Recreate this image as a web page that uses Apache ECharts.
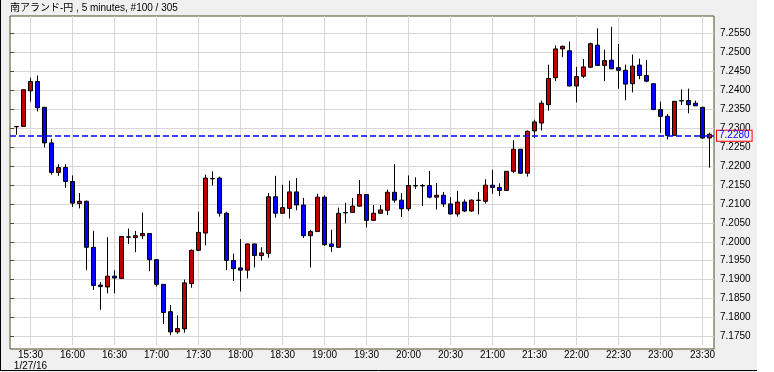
<!DOCTYPE html>
<html>
<head>
<meta charset="utf-8">
<script src="https://cdn.jsdelivr.net/npm/echarts@6/dist/echarts.min.js"></script>
<style>
html,body{margin:0;padding:0;background:#f0f0f0;}
#chart{width:774px;height:372px;}
</style>
</head>
<body>
<div id="chart"></div>
<script>
var titleText = '南アランド-円 , 5 minutes, #100 / 305';
var dateLabel = '1/27/16';
var times = ['15:20','15:25','15:30','15:35','15:40','15:45','15:50','15:55',
'16:00','16:05','16:10','16:15','16:20','16:25','16:30','16:35','16:40','16:45','16:50','16:55',
'17:00','17:05','17:10','17:15','17:20','17:25','17:30','17:35','17:40','17:45','17:50','17:55',
'18:00','18:05','18:10','18:15','18:20','18:25','18:30','18:35','18:40','18:45','18:50','18:55',
'19:00','19:05','19:10','19:15','19:20','19:25','19:30','19:35','19:40','19:45','19:50','19:55',
'20:00','20:05','20:10','20:15','20:20','20:25','20:30','20:35','20:40','20:45','20:50','20:55',
'21:00','21:05','21:10','21:15','21:20','21:25','21:30','21:35','21:40','21:45','21:50','21:55',
'22:00','22:05','22:10','22:15','22:20','22:25','22:30','22:35','22:40','22:45','22:50','22:55',
'23:00','23:05','23:10','23:15','23:20','23:25','23:30','23:35'];
var openV = [7.2300,7.2301,7.2396,7.2421,7.2352,7.2257,7.2178,7.2191,7.2154,7.2095,
7.2101,7.1978,7.1877,7.1872,7.1901,7.1895,7.2006,7.2004,7.2009,7.2015,
7.1945,7.1879,7.1806,7.1752,7.1760,7.1881,7.1970,7.2016,7.2162,7.2163,
7.2069,7.1943,7.1923,7.1917,7.1987,7.1956,7.1962,7.2113,7.2069,7.2082,
7.2126,7.2091,7.2009,7.2020,7.2112,7.1987,7.1978,7.2071,7.2071,7.2088,
7.2119,7.2050,7.2069,7.2077,7.2125,7.2104,7.2081,7.2143,7.2143,7.2143,
7.2112,7.2117,7.2094,7.2067,7.2099,7.2075,7.2104,7.2101,7.2144,7.2138,
7.2130,7.2181,7.2240,7.2176,7.2289,7.2310,7.2359,7.2431,7.2508,7.2503,
7.2409,7.2435,7.2459,7.2518,7.2464,7.2478,7.2458,7.2451,7.2415,7.2465,
7.2437,7.2415,7.2346,7.2328,7.2277,7.2370,7.2370,7.2363,7.2352,7.2270];
var closeV = [7.2301,7.2399,7.2421,7.2351,7.2257,7.2178,7.2191,7.2154,7.2096,7.2101,
7.1978,7.1876,7.1873,7.1901,7.1896,7.2007,7.2005,7.2009,7.2015,7.1945,
7.1879,7.1804,7.1752,7.1761,7.1883,7.1970,7.2018,7.2163,7.2161,7.2069,
7.1943,7.1921,7.1917,7.1987,7.1956,7.1963,7.2113,7.2069,7.2084,7.2126,
7.2091,7.2009,7.2020,7.2112,7.1985,7.1980,7.2069,7.2070,7.2088,7.2119,
7.2050,7.2069,7.2078,7.2125,7.2104,7.2081,7.2143,7.2142,7.2142,7.2112,
7.2117,7.2094,7.2067,7.2099,7.2075,7.2104,7.2103,7.2144,7.2138,7.2130,
7.2181,7.2240,7.2176,7.2288,7.2313,7.2363,7.2429,7.2508,7.2515,7.2409,
7.2434,7.2460,7.2522,7.2464,7.2477,7.2455,7.2451,7.2414,7.2462,7.2437,
7.2422,7.2346,7.2328,7.2277,7.2368,7.2369,7.2359,7.2356,7.2270,7.2280];
var lowV = [7.2279,7.2300,7.2367,7.2341,7.2245,7.2172,7.2169,7.2137,7.2086,7.2082,
7.1917,7.1864,7.1811,7.1855,7.1855,7.1894,7.1987,7.1965,7.2000,7.1914,
7.1873,7.1773,7.1743,7.1747,7.1750,7.1870,7.1968,7.1983,7.2143,7.2060,
7.1917,7.1888,7.1860,7.1895,7.1924,7.1943,7.1950,7.2057,7.2068,7.2055,
7.2077,7.2003,7.1924,7.2019,7.1982,7.1966,7.1977,7.2042,7.2070,7.2087,
7.2031,7.2049,7.2068,7.2064,7.2097,7.2059,7.2075,7.2134,7.2088,7.2109,
7.2079,7.2086,7.2066,7.2060,7.2072,7.2073,7.2066,7.2095,7.2121,7.2115,
7.2129,7.2176,7.2175,7.2167,7.2270,7.2290,7.2343,7.2422,7.2486,7.2408,
7.2365,7.2430,7.2458,7.2463,7.2422,7.2454,7.2402,7.2371,7.2392,7.2427,
7.2419,7.2345,7.2284,7.2266,7.2277,7.2358,7.2336,7.2356,7.2268,7.2191];
var highV = [7.2302,7.2400,7.2431,7.2437,7.2353,7.2268,7.2200,7.2200,7.2170,7.2123,
7.2103,7.2022,7.1885,7.2005,7.1917,7.2008,7.2028,7.2022,7.2071,7.2016,
7.1946,7.1880,7.1824,7.1796,7.1892,7.1972,7.2073,7.2172,7.2181,7.2167,
7.2073,7.1961,7.2000,7.1988,7.1988,7.1978,7.2123,7.2169,7.2145,7.2156,
7.2163,7.2110,7.2025,7.2121,7.2117,7.2025,7.2084,7.2097,7.2110,7.2158,
7.2120,7.2091,7.2091,7.2132,7.2200,7.2123,7.2170,7.2165,7.2147,7.2182,
7.2150,7.2126,7.2112,7.2129,7.2106,7.2106,7.2126,7.2160,7.2185,7.2149,
7.2182,7.2264,7.2241,7.2290,7.2319,7.2370,7.2466,7.2517,7.2517,7.2528,
7.2460,7.2481,7.2525,7.2563,7.2506,7.2567,7.2521,7.2466,7.2493,7.2482,
7.2478,7.2416,7.2367,7.2334,7.2369,7.2400,7.2402,7.2370,7.2353,7.2284];
var yTicks = [7.1750,7.1800,7.1850,7.1900,7.1950,7.2000,7.2050,7.2100,7.2150,
7.2200,7.2250,7.2300,7.2350,7.2400,7.2450,7.2500,7.2550];
var currentPrice = 7.2280;
var yMin = 7.1717, yMax = 7.2596;

var candleData = openV.map(function (o, i) { return [o, closeV[i], lowV[i], highV[i]]; });
var FONT = "'Liberation Sans', sans-serif";
var TFONT = "'Liberation Sans', 'Noto Sans CJK JP', sans-serif";
var BLUE = '#0000ff';
function isHalfHour(idx) {
  var m = times[idx].split(':')[1];
  return m === '00' || m === '30';
}
var firstLabel = times.findIndex(function (t, i) { return isHalfHour(i); });

var chart = echarts.init(document.getElementById('chart'), null, { renderer: 'canvas' });
chart.setOption({
  animation: false,
  backgroundColor: '#f0f0f0',
  title: {
    text: titleText, left: 10, top: 3, padding: 0,
    textStyle: { fontSize: 10, fontWeight: 'normal', color: '#000', fontFamily: TFONT }
  },
  graphic: [
    { type: 'rect', shape: { x: 757, y: 0, width: 17, height: 372 }, style: { fill: '#ffffff' }, silent: true, z: -10 },
    { type: 'line', shape: { x1: 0.5, y1: 0, x2: 0.5, y2: 371 }, style: { stroke: '#000', lineWidth: 1 }, silent: true },
    { type: 'line', shape: { x1: 0, y1: 370.5, x2: 757, y2: 370.5 }, style: { stroke: '#000', lineWidth: 1 }, silent: true }
  ],
  grid: [
    { left: 10, top: 16, width: 704, height: 333, show: true, backgroundColor: '#ffffff', borderColor: '#4a4a22', borderWidth: 1 },
    { left: 13, top: 16, width: 700, height: 333, show: false }
  ],
  xAxis: [
    { type: 'value', gridIndex: 0, show: false, min: 0, max: 1 },
    {
      type: 'category', gridIndex: 1, data: times, boundaryGap: true,
      axisLine: { show: false }, axisTick: { show: false },
      axisLabel: {
        interval: function (idx) { return isHalfHour(idx); },
        color: '#000', fontSize: 10, fontFamily: FONT, margin: 5, lineHeight: 11,
        formatter: function (v, idx) { return idx === firstLabel ? v + '\n' + dateLabel : v; }
      },
      splitLine: {
        show: true, alignWithLabel: true,
        interval: function (idx) { return isHalfHour(idx); },
        lineStyle: { color: '#d6d6d6', width: 1 }
      }
    }
  ],
  yAxis: [
    {
      type: 'value', gridIndex: 0, position: 'right', min: yMin, max: yMax,
      axisLine: { show: false },
      axisTick: { show: true, length: 4, customValues: yTicks, lineStyle: { color: '#4a4a22' } },
      axisLabel: {
        customValues: yTicks, color: '#000', fontSize: 10, fontFamily: FONT, margin: 6,
        formatter: function (v) { return v.toFixed(4); }
      },
      splitLine: { show: true, lineStyle: { color: '#d6d6d6', width: 1 } }
    },
    { type: 'value', gridIndex: 1, min: yMin, max: yMax, show: false, splitLine: { show: false } }
  ],
  series: [
    {
      type: 'candlestick', xAxisIndex: 1, yAxisIndex: 1, data: candleData,
      barWidth: 4, z: 3,
      itemStyle: { color: '#c00000', color0: BLUE, borderColor: '#000', borderColor0: '#000', borderWidth: 1 }
    },
    {
      type: 'line', xAxisIndex: 0, yAxisIndex: 0, data: [], silent: true, color: BLUE, z: 4,
      markLine: {
        silent: true, symbol: 'none', animation: false, precision: 4,
        data: [{ yAxis: currentPrice, lineStyle: { color: BLUE, type: [6, 3], width: 1.5, opacity: 1 } }],
        lineStyle: { color: BLUE, type: [6, 3], width: 1.5, opacity: 1 },
        label: {
          show: true, position: 'end', distance: 3,
          formatter: function () { return currentPrice.toFixed(4); },
          color: BLUE, fontSize: 10, lineHeight: 10, fontFamily: FONT,
          borderColor: '#ff0000', borderWidth: 1, padding: [0, 2, 0, 2], backgroundColor: '#f0f0f0'
        }
      }
    }
  ]
});
</script>
</body>
</html>
